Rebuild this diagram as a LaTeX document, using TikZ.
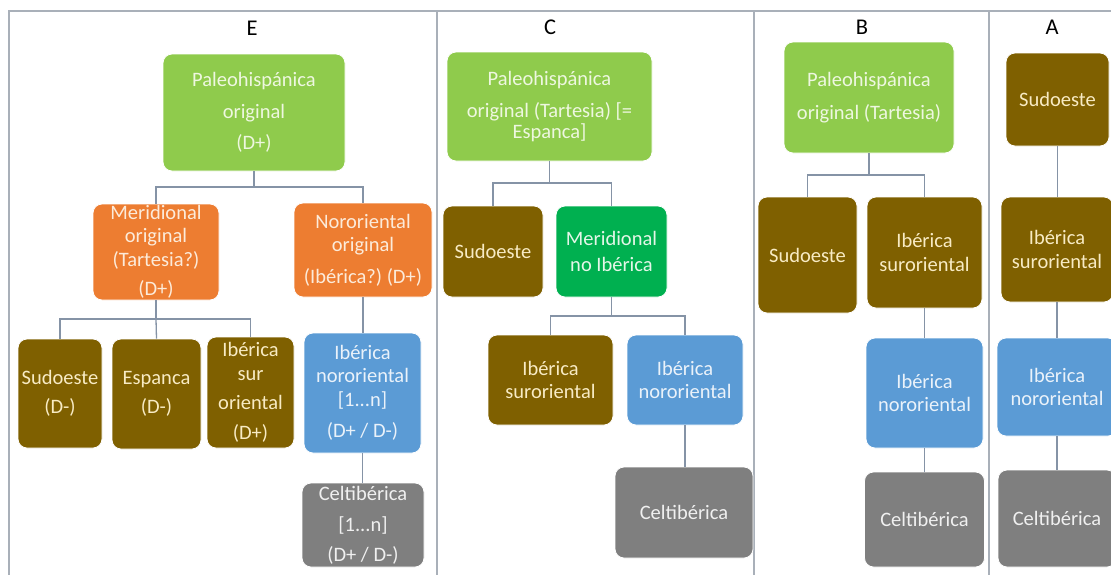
\documentclass[tikz,border=0pt]{standalone}
\usepackage{fontspec}
\setmainfont{Carlito}
\frenchspacing
\definecolor{frameC}{HTML}{A9B0B9}
\definecolor{linkC}{HTML}{8593A6}
\definecolor{lgreen}{HTML}{8FCB4C}
\definecolor{lgreenT}{HTML}{EEF7E0}
\definecolor{orangeC}{HTML}{ED7D31}
\definecolor{orangeT}{HTML}{FCEBDA}
\definecolor{brownC}{HTML}{7F6000}
\definecolor{brownT}{HTML}{F8EBC4}
\definecolor{blueC}{HTML}{5B9BD5}
\definecolor{blueT}{HTML}{EAF2FA}
\definecolor{grayC}{HTML}{7F7F7F}
\definecolor{grayT}{HTML}{F0F0F0}
\definecolor{dgreen}{HTML}{00B050}
\definecolor{dgreenT}{HTML}{E4F6E8}
\tikzset{
  bx/.style={rectangle, rounded corners=9pt, inner sep=0pt, align=center,
    draw=white, line width=0.8pt, font=\fontsize{20.5}{23.5}\selectfont\frenchspacing},
  grn/.style={bx, fill=lgreen, text=lgreenT},
  org/.style={bx, fill=orangeC, text=orangeT},
  brn/.style={bx, fill=brownC, text=brownT},
  blu/.style={bx, fill=blueC, text=blueT},
  gry/.style={bx, fill=grayC, text=grayT},
  dgr/.style={bx, fill=dgreen, text=dgreenT},
  link/.style={draw=linkC, line width=1.3pt},
  framel/.style={draw=frameC, line width=1.4pt},
  ttl/.style={font=\fontsize{22.5}{26}\selectfont, text=black, inner sep=0pt},
  sz/.style 2 args={minimum width=#1pt, minimum height=#2pt}
}
\begin{document}
\begin{tikzpicture}[x=1pt,y=-1pt]
\clip (0,0) rectangle (1111,574);
\fill[white] (0,0) rectangle (1111,574);
% frame
\coordinate (f1) at (9,600);
\coordinate (f2) at (9,11);
\coordinate (f3) at (1120,11);
\draw[framel] (f1) -- (f2) -- (f3);
\coordinate (d1t) at (437,11); \coordinate (d1b) at (437,600);
\coordinate (d2t) at (754,11); \coordinate (d2b) at (754,600);
\coordinate (d3t) at (989,11); \coordinate (d3b) at (989,600);
\draw[framel] (d1t) -- (d1b);
\draw[framel] (d2t) -- (d2b);
\draw[framel] (d3t) -- (d3b);
% titles
\node[ttl] (tE) at (252,28) {E};
\node[ttl] (tC) at (550,27) {C};
\node[ttl] (tB) at (862,27) {B};
\node[ttl] (tA) at (1052,27) {A};

% ===== E =====
\node[grn, sz={182}{117}] (ep) at (254,112.5) {Paleohispánica\\[8pt]original\\[8pt](D+)};
\node[org, sz={126}{96}] (em) at (156,252) {Meridional\\original\\(Tartesia?)\\[6pt](D+)};
\node[org, sz={138}{94}] (en) at (363,250) {Nororiental\\original\\[8pt](Ibérica?) (D+)};
\node[brn, sz={84}{109}] (es) at (60,393.5) {Sudoeste\\[6pt](D-)};
\node[brn, sz={89}{110}] (ee) at (156.5,394) {Espanca\\[6pt](D-)};
\node[brn, sz={87}{111}] (ei) at (250.5,392.5) {Ibérica\\sur\\[6pt]oriental\\[6pt](D+)};
\node[blu, sz={117}{120}] (eib) at (362.5,393) {Ibérica\\nororiental\\{}[1...n]\\[8pt](D+ / D-)};
\node[gry, sz={122}{84}] (ec) at (363,525) {Celtibérica\\[8pt]{}[1...n]\\[6pt](D+ / D-)};

\draw[link] (ep.south) -- (254,187) -| (em.north);
\draw[link] (254,187) -| (en.north);
\draw[link] (em.south) -- (156,319) -| (es.north);
\draw[link] (156,319) -- (ee.north);
\draw[link] (156,319) -| (ei.north);
\draw[link] (en.south) -- (en.south |- eib.north);
\draw[link] (eib.south) -- (eib.south |- ec.north);

% ===== C =====
\node[grn, sz={205}{109}] (cp) at (549.5,106.5) {Paleohispánica\\[9pt]original (Tartesia) [=\\[-3pt]Espanca]};
\node[brn, sz={100}{91}] (cs) at (493,251.5) {Sudoeste};
\node[dgr, sz={111}{91}] (cm) at (611.5,251.5) {Meridional\\[2pt]no Ibérica};
\node[brn, sz={125}{90}] (cis) at (550.5,380) {Ibérica\\suroriental};
\node[blu, sz={116}{90}] (cin) at (685,380) {Ibérica\\nororiental};
\node[gry, sz={138}{91}] (cc) at (684,512.5) {Celtibérica};

\draw[link] (cp.south) -- (549.5,183) -| (cs.north);
\draw[link] (549.5,183) -| (cm.north);
\draw[link] (cm.south) -- (611.5,316) -| (cis.north);
\draw[link] (611.5,316) -| (cin.north);
\draw[link] (cin.south) -- (cin.south |- cc.north);

% ===== B =====
\node[grn, sz={170}{111}] (bp) at (869,97.5) {Paleohispánica\\[9pt]original (Tartesia)};
\node[brn, sz={99}{116}] (bs) at (807.5,255) {Sudoeste};
\node[brn, sz={115}{111}] (bis) at (924.5,252.5) {Ibérica\\suroriental};
\node[blu, sz={117}{110}] (bin) at (924.5,393) {Ibérica\\nororiental};
\node[gry, sz={120}{95}] (bc) at (924.5,519.5) {Celtibérica};

\draw[link] (bp.south) -- (869,175) -| (bs.north);
\draw[link] (869,175) -| (bis.north);
\draw[link] (bis.south) -- (bis.south |- bin.north);
\draw[link] (bin.south) -- (bin.south |- bc.north);

% ===== A =====
\node[brn, sz={103}{93}] (as) at (1057.5,99.5) {Sudoeste};
\node[brn, sz={112}{105}] (ais) at (1057,249.5) {Ibérica\\suroriental};
\node[blu, sz={120}{98}] (ain) at (1057,387) {Ibérica\\nororiental};
\node[gry, sz={118}{97}] (ac) at (1057,518.5) {Celtibérica};

\draw[link] (as.south) -- (as.south |- ais.north);
\draw[link] (ais.south) -- (ais.south |- ain.north);
\draw[link] (ain.south) -- (ain.south |- ac.north);
\end{tikzpicture}
\end{document}
